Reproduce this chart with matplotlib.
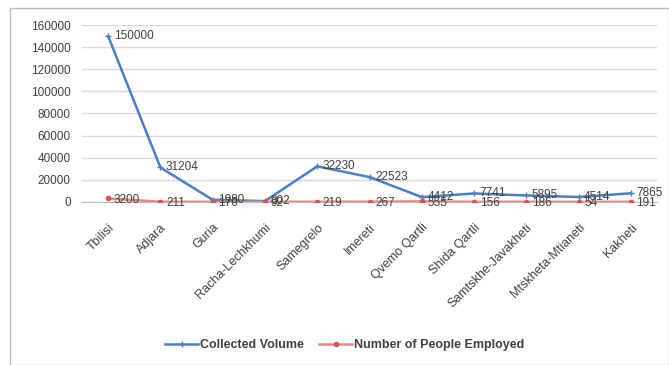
import matplotlib
matplotlib.use("Agg")
import matplotlib.pyplot as plt
from matplotlib.patches import Rectangle

regions = ["Tbilisi", "Adjara", "Guria", "Racha-Lechkhumi", "Samegrelo", "Imereti",
           "Qvemo Qartli", "Shida Qartli", "Samtskhe-Javakheti", "Mtskheta-Mtianeti", "Kakheti"]
collected_volume = [150000, 31204, 1980, 802, 32230, 22523, 4412, 7741, 5895, 4514, 7865]
people_employed = [3200, 211, 170, 92, 219, 267, 555, 156, 186, 54, 191]
y_ticks = [0, 20000, 40000, 60000, 80000, 100000, 120000, 140000, 160000]

W, H = 669, 365
fig = plt.figure(figsize=(W / 100, H / 100), dpi=100)
plt.rcParams["font.family"] = ["Liberation Sans", "DejaVu Sans"]

# outer chart frame
fig.patches.append(Rectangle((10 / W, 0), 1 - 10 / W - 0.5 / W, 1 - 8 / H,
                             transform=fig.transFigure, fill=False,
                             edgecolor="#bdbdbd", linewidth=1.0))

ax = fig.add_axes([82 / W, 1 - 202 / H, (657 - 82) / W, (202 - 25) / H])
x = list(range(len(regions)))

blue = "#4a7ec6"
red = "#d9534f"
ax.plot(x, collected_volume, color=blue, linewidth=1.8, marker="+", markersize=4,
        markeredgewidth=1, label="Collected Volume", zorder=3)
ax.plot(x, people_employed, color="#e5877f", linewidth=1.8, marker="o", markersize=3,
        markerfacecolor=red, markeredgecolor=red, label="Number of People Employed", zorder=3)

for xi, v in zip(x, collected_volume):
    ax.annotate(str(v), (xi, v), xytext=(4, 0), textcoords="offset points",
                ha="left", va="center", fontsize=8.5, color="#404040", zorder=4)
for xi, v in zip(x, people_employed):
    ax.annotate(str(v), (xi, v), xytext=(4, -1), textcoords="offset points",
                ha="left", va="center", fontsize=8.5, color="#404040", zorder=4)

ax.set_xlim(-0.5, len(regions) - 0.5)
ax.set_ylim(0, 160000)
ax.set_yticks(y_ticks)
ax.set_yticklabels([str(t) for t in y_ticks], fontsize=8.5, color="#404040")
ax.set_xticks(x)
ax.set_xticklabels(regions, rotation=45, ha="right", rotation_mode="anchor",
                   fontsize=9, color="#404040")
ax.tick_params(axis="both", length=0, pad=8)
ax.tick_params(axis="x", pad=14)
ax.grid(axis="y", color="#d9d9d9", linewidth=1)
ax.set_axisbelow(True)
for side in ["left", "right", "top"]:
    ax.spines[side].set_visible(False)
ax.spines["bottom"].set_color("#bfbfbf")

fig.legend(loc="center", bbox_to_anchor=(345 / W, 1 - 345 / H), ncol=2, frameon=False,
           prop={"size": 9, "weight": "bold"}, handlelength=2.6, handletextpad=0.2,
           columnspacing=1.2, labelcolor="#404040")

fig.savefig("out.png", dpi=100)
